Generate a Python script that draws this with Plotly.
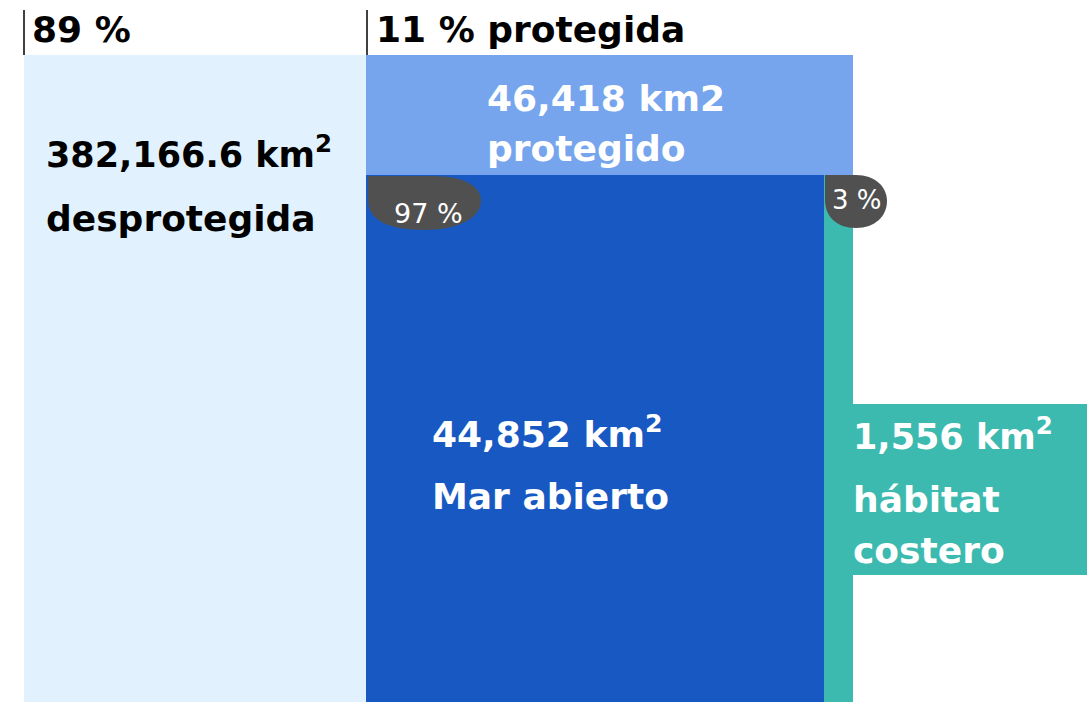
import plotly.graph_objects as go

# ----------------------------
# Data
# ----------------------------
areas_km2 = [382166.6, 46418, 44852, 1556]
area_names = ["desprotegida", "protegido", "Mar abierto", "hábitat costero"]
top_pct = [89, 11]
top_pct_names = ["", "protegida"]
sub_pct = [97, 3]

# colours
c_unprot = "#E1F2FE"
c_prot = "#76A5EE"
c_open = "#1858C2"
c_coast = "#3DBAAF"
c_bubble = "#505050"

# block geometry (pixel-like units, y grows downward)
W, H = 1087, 702
blocks = [
    dict(x0=24, x1=366, y0=55, y1=702, color=c_unprot),     # desprotegida
    dict(x0=366, x1=824, y0=175, y1=702, color=c_open),     # mar abierto
    dict(x0=824, x1=853, y0=175, y1=702, color=c_coast),    # costero column
    dict(x0=853, x1=1087, y0=404, y1=575, color=c_coast),   # costero label box
]

fig = go.Figure()
shapes = []
for b in blocks:
    shapes.append(dict(type="rect", xref="x", yref="y", x0=b["x0"], x1=b["x1"],
                       y0=b["y0"], y1=b["y1"], fillcolor=b["color"], line_width=0,
                       layer="below"))

# percentage bubbles
shapes.append(dict(type="path", xref="x", yref="y", fillcolor=c_bubble, line_width=0,
                   path="M 368,176 L 432,176 C 468,176 481,188 481,201 "
                        "C 481,217 460,230 424,230 C 386,230 368,219 368,200 Z"))
shapes.append(dict(type="path", xref="x", yref="y", fillcolor=c_bubble, line_width=0,
                   path="M 825,175 L 856,175 C 875,175 887,187 887,201 "
                        "C 887,216 875,228 856,228 C 836,228 825,216 825,200 Z"))
# protected block on top
shapes.append(dict(type="rect", xref="x", yref="y", x0=366, x1=853, y0=55, y1=175,
                   fillcolor=c_prot, line_width=0))
# tick lines by header labels
for xl in [24, 367]:
    shapes.append(dict(type="line", xref="x", yref="y", x0=xl, x1=xl, y0=10, y1=55,
                       line=dict(color="black", width=1.5)))

FONT = "DejaVu Sans"
BIG = 36


def label(x, y, text, size, color, bold=True):
    fig.add_annotation(x=x, y=y, xref="x", yref="y", text=text, showarrow=False,
                       xanchor="left", yanchor="middle",
                       font=dict(family=FONT, size=size, color=color,
                                 weight="bold" if bold else "normal"))


# header
label(30, 29, f"{top_pct[0]} %", BIG, "black")
label(374, 29, f"{top_pct[1]} % {top_pct_names[1]}", BIG, "black")

# unprotected
label(44, 152, f"{areas_km2[0]:,.1f} km<sup>2</sup>", 35, "black")
label(44, 218, area_names[0], BIG, "black")

# protected
label(485, 98, f"{areas_km2[1]:,.0f} km2", BIG, "white")
label(485, 148, area_names[1], BIG, "white")

# open sea
label(430, 432, f"{areas_km2[2]:,.0f} km<sup>2</sup>", BIG, "white")
label(430, 496, area_names[2], BIG, "white")

# coastal
hab, cost = area_names[3].split(" ")
label(851, 434, f"{areas_km2[3]:,.0f} km<sup>2</sup>", 35, "white")
label(851, 499, hab, BIG, "white")
label(851, 550, cost, BIG, "white")

# bubbles text
label(392, 213, f"{sub_pct[0]} %", 27, "white", bold=False)
label(830, 200, f"{sub_pct[1]} %", 26, "white", bold=False)

fig.update_layout(
    width=W, height=H,
    margin=dict(l=0, r=0, t=0, b=0),
    plot_bgcolor="white", paper_bgcolor="white",
    shapes=shapes,
    showlegend=False,
)
fig.update_xaxes(range=[0, W], visible=False, fixedrange=True)
fig.update_yaxes(range=[H, 0], visible=False, fixedrange=True)

fig.write_html("out.html", config={"displayModeBar": False},
               post_script="document.body.style.margin='0';")
